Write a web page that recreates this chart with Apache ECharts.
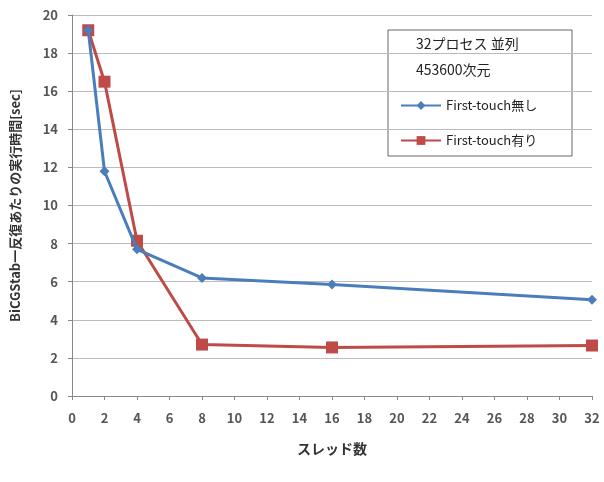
<!DOCTYPE html>
<html>
<head>
<meta charset="utf-8">
<script src="https://cdn.jsdelivr.net/npm/echarts@6/dist/echarts.min.js"></script>
<style>
  html, body { margin: 0; padding: 0; background: #fff; }
  #chart { width: 604px; height: 482px; }
</style>
</head>
<body>
<div id="chart"></div>
<script>
// スレッド数
const threads = [1, 2, 4, 8, 16, 32]
const noFirstTouch = [19.2, 11.8, 7.7, 6.2, 5.85, 5.05]
const withFirstTouch = [19.2, 16.5, 8.15, 2.7, 2.55, 2.65]
const seriesNames = ['First-touch無し', 'First-touch有り']
const boxTitle = ['32プロセス 並列', '453600次元']

const font = '"Noto Sans CJK JP", "DejaVu Sans", sans-serif'
const toPairs = (xs, ys) => xs.map((x, i) => [x, ys[i]])

let myChart = echarts.init(document.getElementById('chart'))
myChart.setOption({
    animation: false,
    textStyle: { fontFamily: font },
    grid: { left: 72, right: 12, top: 15, bottom: 86 },
    xAxis: {
        type: 'value',
        min: 0, max: 32, interval: 2,
        name: 'スレッド数',
        nameLocation: 'middle',
        nameGap: 46,
        nameTextStyle: { fontSize: 14, fontWeight: 'bold', color: '#333' },
        axisLine: { lineStyle: { color: '#888' } },
        axisTick: { show: true, length: 4, lineStyle: { color: '#888' } },
        axisLabel: { color: '#555', fontSize: 13, fontWeight: 'bold', margin: 16 },
        splitLine: { show: false }
    },
    yAxis: {
        type: 'value',
        min: 0, max: 20, interval: 2,
        name: 'BiCGStab一反復あたりの実行時間[sec]',
        nameLocation: 'middle',
        nameGap: 50,
        nameRotate: 90,
        nameTextStyle: { fontSize: 13, fontWeight: 'bold', color: '#333' },
        axisLine: { show: true, lineStyle: { color: '#888' } },
        axisTick: { show: true, length: 4, lineStyle: { color: '#888' } },
        axisLabel: { color: '#555', fontSize: 13, fontWeight: 'bold', margin: 14 },
        splitLine: { lineStyle: { color: '#bbb' } }
    },
    legend: {
        orient: 'vertical',
        left: 395,
        top: 94,
        itemGap: 22,
        itemWidth: 40,
        itemHeight: 11,
        textStyle: { fontSize: 13, color: '#222' },
        data: seriesNames
    },
    graphic: [
        {
            type: 'rect',
            shape: { x: 388, y: 30, width: 184, height: 126 },
            style: { fill: '#fff', stroke: '#666', lineWidth: 1 },
            z: 0
        },
        {
            type: 'text', left: 416, top: 37, z: 10,
            style: { text: boxTitle[0], fontSize: 14, fill: '#222', fontFamily: font }
        },
        {
            type: 'text', left: 416, top: 63, z: 10,
            style: { text: boxTitle[1], fontSize: 14, fill: '#222', fontFamily: font }
        }
    ],
    series: [
        {
            name: seriesNames[0],
            type: 'line',
            data: toPairs(threads, noFirstTouch),
            symbol: 'diamond',
            symbolSize: 10,
            lineStyle: { width: 3 },
            z: 3
        },
        {
            name: seriesNames[1],
            type: 'line',
            data: toPairs(threads, withFirstTouch),
            symbol: 'rect',
            symbolSize: 12,
            lineStyle: { width: 3 },
            z: 2
        }
    ],
    color: ['#4a7ebb', '#be4b48']
})
</script>
</body>
</html>
